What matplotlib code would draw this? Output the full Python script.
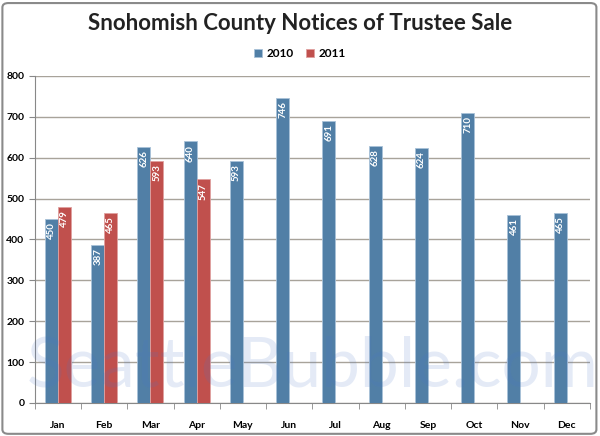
import numpy as np
import matplotlib.pyplot as plt
from matplotlib.patches import FancyBboxPatch

months = ['Jan', 'Feb', 'Mar', 'Apr', 'May', 'Jun', 'Jul', 'Aug', 'Sep', 'Oct', 'Nov', 'Dec']
sales_2010 = [450, 387, 626, 640, 593, 746, 691, 628, 624, 710, 461, 465]
sales_2011 = [479, 465, 593, 547]

blue = '#517FA6'
red = '#C0504D'

plt.rcParams['font.family'] = ['Lato', 'DejaVu Sans']

fig = plt.figure(figsize=(6, 4.36), dpi=100)
fig.patch.set_facecolor('white')
border = FancyBboxPatch((0.004, 0.005), 0.99, 0.988, boxstyle='round,pad=0,rounding_size=0.01',
                        transform=fig.transFigure, fill=False, edgecolor='#8a8a8a', linewidth=1.5)
fig.patches.append(border)

ax = fig.add_axes([0.058, 0.0757, 0.925, 0.75])
x = np.arange(len(months))
w = 0.28
b1 = ax.bar(x - w / 2, sales_2010, w, color=blue, label='2010', zorder=3,
            edgecolor='#a9c2d8', linewidth=0.6)
b2 = ax.bar(x[:len(sales_2011)] + w / 2, sales_2011, w, color=red, label='2011', zorder=3,
            edgecolor='#e0a0a0', linewidth=0.6)

# value labels inside the top of each bar
for bars, vals in [(b1, sales_2010), (b2, sales_2011)]:
    for bar, v in zip(bars, vals):
        ax.text(bar.get_x() + bar.get_width() / 2, v - 8, str(v), rotation=90,
                ha='center', va='top', color='white', fontsize=7, fontweight='bold', zorder=4)

ax.set_xlim(-0.5, len(months) - 0.5)
ax.set_ylim(0, 800)
ax.set_yticks(range(0, 801, 100))
ax.yaxis.grid(True, color='#a8a39a', linewidth=1, zorder=0)
ax.set_axisbelow(True)
ax.set_xticks(x)
ax.set_xticklabels(months, fontsize=7.5, fontweight='bold')
ax.set_xticks(np.arange(-0.5, len(months), 1), minor=True)
ax.tick_params(axis='x', which='major', length=0, pad=13)
ax.tick_params(axis='x', which='minor', length=4, color='#888888')
ax.tick_params(axis='y', length=4, color='#888888', labelsize=7.5)
for lab in ax.get_yticklabels():
    lab.set_fontweight('bold')
for s in ['top', 'right']:
    ax.spines[s].set_visible(False)
ax.spines['left'].set_color('#888888')
ax.spines['bottom'].set_color('#888888')

# watermark
ax.text(0.5, 0.11, 'SeattleBubble.com', transform=ax.transAxes, ha='center', va='center',
        fontsize=50, color='#4a78c8', alpha=0.15, zorder=5)

fig.text(0.5, 0.945, 'Snohomish County Notices of Trustee Sale', ha='center', va='center',
         fontsize=16, fontweight='bold', color='#222222')
fig.legend(handles=[b1, b2], loc='center', bbox_to_anchor=(0.5, 0.877), ncol=2, frameon=False,
           prop={'weight': 'bold', 'size': 8.5}, handlelength=0.7, handleheight=0.7,
           columnspacing=1.0, handletextpad=0.4)

fig.savefig('out.png', dpi=100)
